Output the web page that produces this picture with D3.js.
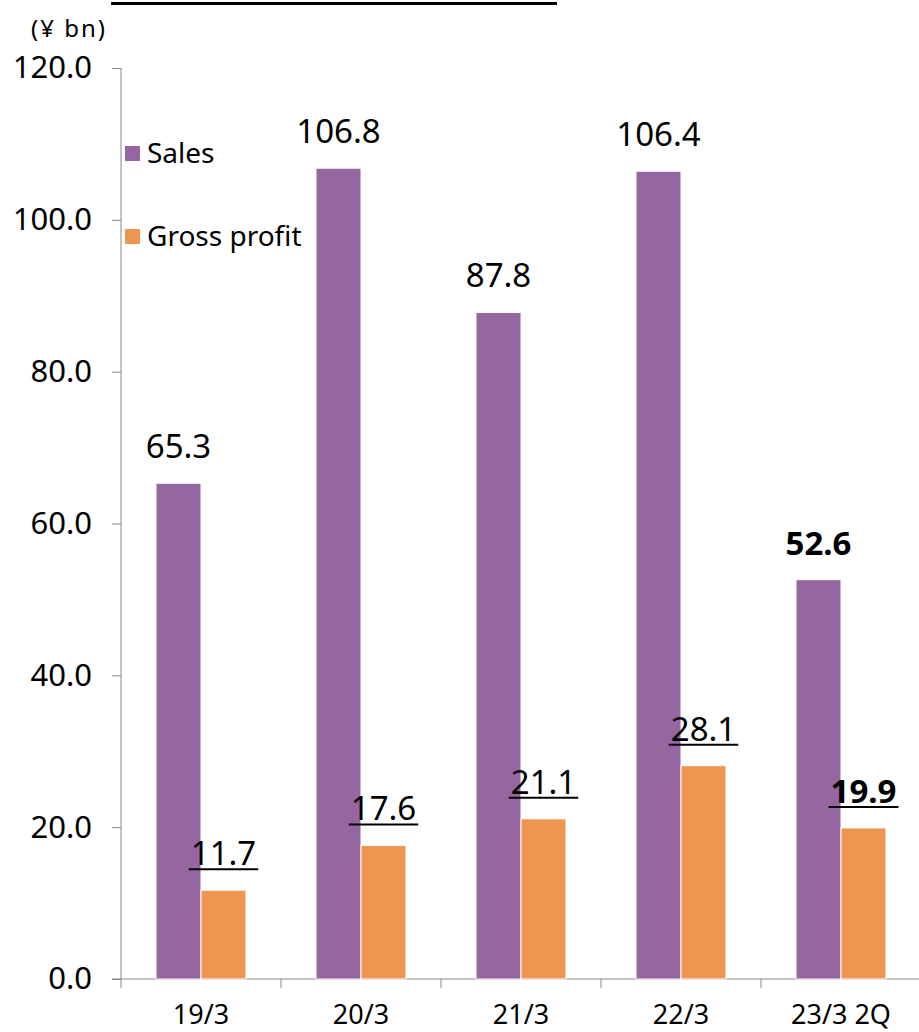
<!DOCTYPE html>
<html><head><meta charset="utf-8">
<script src="https://cdn.jsdelivr.net/npm/d3@7"></script>
<style>body{margin:0;background:#fff}svg{display:block}text{font-family:"Noto Sans",sans-serif;fill:#000}</style>
</head><body>
<script>
const categories = ["19/3","20/3","21/3","22/3","23/3 2Q"];
const salesValues = [65.3,106.8,87.8,106.4,52.6];
const grossValues = [11.7,17.6,21.1,28.1,19.9];
const seriesNames = ["Sales","Gross profit"];
const yTicks = [0,20,40,60,80,100,120];
const colors = ["#9566A0","#EE9651"];

const W=919,H=1032;
const svg=d3.select("body").append("svg").attr("width",W).attr("height",H);
const y=d3.scaleLinear().domain([0,120]).range([979,68]);
const x0=d3.scaleBand().domain(categories).range([121,921]).padding(0);
const x1=d3.scaleBand().domain(seriesNames).range([0,x0.bandwidth()]).paddingInner(0).paddingOuter(0.778);

// title underline (title text is cropped out of the view)
svg.append("rect").attr("x",111).attr("y",2).attr("width",446).attr("height",3).attr("fill","#000");

svg.append("text").attr("x",31).attr("y",37).attr("font-size",24).attr("letter-spacing",2).text("(¥ bn)");

// y axis
const yAxis=d3.axisLeft(y).tickValues(yTicks).tickFormat(d3.format(".1f")).tickSize(9).tickPadding(20);
const ga=svg.append("g").attr("transform","translate(121,0)").call(yAxis);
ga.select(".domain").attr("stroke","#888").attr("d","M0,68V979");
ga.selectAll(".tick line").attr("stroke","#888");
ga.selectAll(".tick text").attr("font-size",31).attr("font-family","Noto Sans").attr("fill","#000");

// x axis
const xg=svg.append("g");
xg.append("line").attr("x1",112).attr("x2",W).attr("y1",979).attr("y2",979).attr("stroke","#888");
const bounds=categories.map(c=>x0(c)).concat([x0(categories[categories.length-1])+x0.bandwidth()]);
xg.selectAll("line.tk").data(bounds).join("line").attr("class","tk")
  .attr("x1",d=>d).attr("x2",d=>d).attr("y1",979).attr("y2",988).attr("stroke","#888");
xg.selectAll("text").data(categories).join("text")
  .attr("x",d=>x0(d)+x0.bandwidth()/2).attr("y",1024).attr("text-anchor","middle")
  .attr("font-size",27).text(d=>d);

// bars
const data=categories.map((c,i)=>({c,vals:[salesValues[i],grossValues[i]]}));
const groups=svg.selectAll("g.grp").data(data).join("g").attr("class","grp")
  .attr("transform",d=>`translate(${x0(d.c)},0)`);
groups.selectAll("rect").data(d=>seriesNames.map((s,j)=>({s,j,v:d.vals[j]}))).join("rect")
  .attr("x",d=>x1(d.s)).attr("width",x1.bandwidth()).attr("y",d=>y(d.v)).attr("height",d=>y(0)-y(d.v))
  .attr("fill",d=>colors[d.j]).attr("stroke","#fff").attr("stroke-width",1);

// labels
data.forEach((d,i)=>{
  const last=i===categories.length-1;
  seriesNames.forEach((s,j)=>{
    const v=d.vals[j];
    const t=svg.append("text").attr("x",x0(d.c)+x1(s)+x1.bandwidth()/2).attr("y",y(v)-25)
      .attr("text-anchor","middle").attr("font-size",33).attr("font-weight",last?"bold":"normal")
      .text(v.toFixed(1));
    if(j===1){
      const bb=t.node().getBBox();
      svg.append("line").attr("x1",bb.x-2).attr("x2",bb.x+bb.width+2)
        .attr("y1",y(v)-21).attr("y2",y(v)-21).attr("stroke","#000").attr("stroke-width",2);
    }
  });
});

// legend
const lg=svg.append("g");
const ly=[146,229];
seriesNames.forEach((s,j)=>{
  lg.append("rect").attr("x",125).attr("y",ly[j]).attr("width",15).attr("height",15).attr("fill",colors[j]);
  lg.append("text").attr("x",147).attr("y",ly[j]+17).attr("font-size",28).text(s);
});
</script>
</body></html>
